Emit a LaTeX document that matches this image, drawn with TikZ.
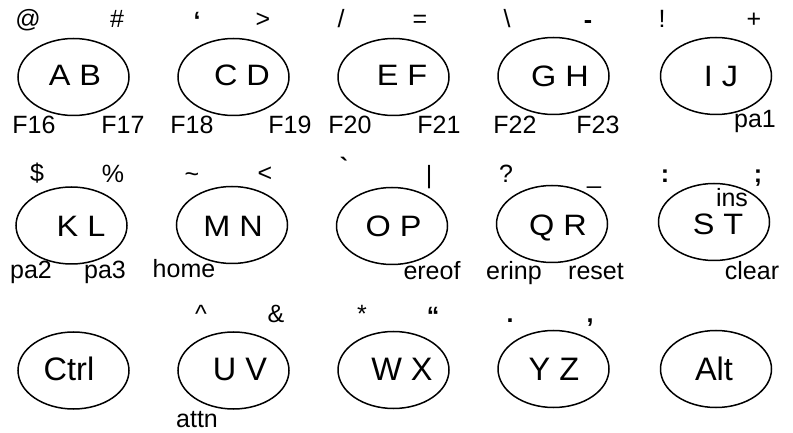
\documentclass[tikz,border=0pt]{standalone}
\usepackage{fontspec}
\setmainfont{Liberation Sans}
\newfontfamily\widekeyfont[FakeStretch=1.1]{Liberation Sans}
\usetikzlibrary{shapes.geometric}
\begin{document}
\begin{tikzpicture}[x=1bp,y=-1bp,
  keyoval/.style={draw,ellipse,line width=1.5bp,minimum width=111bp,minimum height=77bp,inner sep=0pt},
  keytext/.style={anchor=base,inner sep=0pt,font=\widekeyfont\fontsize{29.5bp}{30bp}\selectfont},
  keytextb/.style={anchor=base,inner sep=0pt,font=\fontsize{32.5bp}{33bp}\selectfont},
  lbl/.style={anchor=base,inner sep=0pt,font=\fontsize{25bp}{25bp}\selectfont},
  lblb/.style={lbl,font=\fontsize{25bp}{25bp}\selectfont\bfseries}]
\useasboundingbox (0,0) rectangle (793,433);
% row 1
\node[keyoval] (kAB) at (73.5,77) {};
\node[keyoval] (kCD) at (233.5,77) {};
\node[keyoval] (kEF) at (393.5,77) {};
\node[keyoval] (kGH) at (553.5,76) {};
\node[keyoval] (kIJ) at (716,76) {};
\node[keytext] (tAB) at (75,86) {A B};
\node[keytext] (tCD) at (242,86) {C D};
\node[keytext] (tEF) at (402,86) {E F};
\node[keytext] (tGH) at (560,87) {G H};
\node[keytext] (tIJ) at (721,87) {I J};
\node[lbl] (s1) at (28,28) {@};
\node[lbl] (s2) at (117,28) {\#};
\node[lblb] (s3) at (197,30) {‘};
\node[lbl] (s4) at (263,28) {>};
\node[lbl] (s5) at (341,28) {/};
\node[lbl] (s6) at (420,28) {=};
\node[lbl] (s7) at (507,28) {\textbackslash};
\node[lblb] (s8) at (588,29) {-};
\node[lbl] (s9) at (662,28) {!};
\node[lbl] (s10) at (754,28) {+};
\node[lbl] (f16) at (34,134) {F16};
\node[lbl] (f17) at (123,134) {F17};
\node[lbl] (f18) at (192,134) {F18};
\node[lbl] (f19) at (290,134) {F19};
\node[lbl] (f20) at (350,134) {F20};
\node[lbl] (f21) at (439,134) {F21};
\node[lbl] (f22) at (515,134) {F22};
\node[lbl] (f23) at (598,134) {F23};
\node[lbl] (pa1) at (755,128) {pa1};
% row 2
\node[keyoval] (kKL) at (71.5,225.5) {};
\node[keyoval] (kMN) at (232,225) {};
\node[keyoval] (kOP) at (392,226) {};
\node[keyoval] (kQR) at (552,224) {};
\node[keyoval] (kST) at (714,222) {};
\node[keytext] (tKL) at (81,237) {K L};
\node[keytext] (tMN) at (233,237) {M N};
\node[keytext] (tOP) at (393.5,237) {O P};
\node[keytext] (tQR) at (558,235.5) {Q R};
\node[keytext] (tST) at (718,235) {S T};
\node[lbl] (u1) at (37,182) {\$};
\node[lbl] (u2) at (113,183) {\%};
\node[lbl] (u3) at (192,183) {\textasciitilde};
\node[lbl] (u4) at (265,182) {<};
\node[lblb] (u5) at (344,176) {\textasciigrave};
\node[lbl] (u6) at (429,184) {|};
\node[lbl] (u7) at (506,183) {?};
\node[lbl] (u8) at (594,184) {\_};
\node[lblb] (u9) at (665,183) {:};
\node[lblb] (u10) at (758,183) {;};
\node[lbl] (ins) at (732,207) {ins};
\node[lbl] (pa2) at (31,279) {pa2};
\node[lbl] (pa3) at (105,279) {pa3};
\node[lbl] (home) at (184,278) {home};
\node[lbl] (ereof) at (432,280) {ereof};
\node[lbl] (erinp) at (514,280) {erinp};
\node[lbl] (reset) at (596,280) {reset};
\node[lbl] (clear) at (752,280) {clear};
% row 3
\node[keyoval] (kCtrl) at (73.5,370.5) {};
\node[keyoval] (kUV) at (233.5,370.5) {};
\node[keyoval] (kWX) at (393.5,370) {};
\node[keyoval] (kYZ) at (553.5,369) {};
\node[keyoval] (kAlt) at (716,369) {};
\node[keytextb] (tCtrl) at (69,381) {Ctrl};
\node[keytextb] (tUV) at (240,381) {U V};
\node[keytextb] (tWX) at (402,381) {W X};
\node[keytextb] (tYZ) at (554,381) {Y Z};
\node[keytextb] (tAlt) at (714,381) {Alt};
\node[lbl] (v1) at (201,323) {\textasciicircum};
\node[lbl] (v2) at (276,323) {\&};
\node[lbl] (v3) at (362,323) {*};
\node[lblb] (v4) at (433,325) {“};
\node[lblb] (v5) at (510,323) {.};
\node[lblb] (v6) at (590,323) {,};
\node[lbl] (attn) at (197,427) {attn};
\end{tikzpicture}
\end{document}
